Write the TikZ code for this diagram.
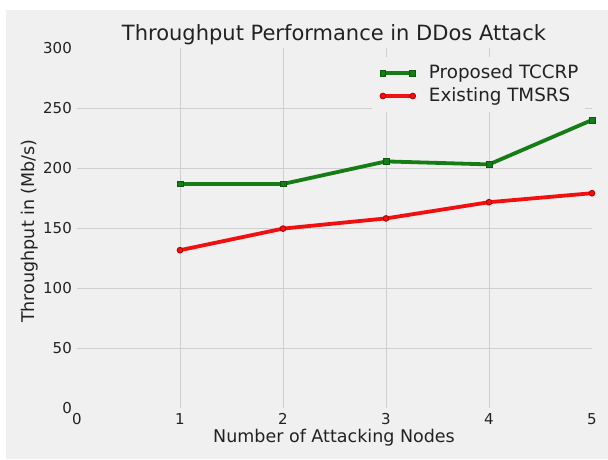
\documentclass[tikz,border=0pt]{standalone}
\usepackage{fontspec}
\setmainfont{DejaVu Sans}
\definecolor{panel}{HTML}{F0F0F0}
\definecolor{gridc}{HTML}{CFCFCF}
\definecolor{ink}{HTML}{222222}
\definecolor{tccrp}{HTML}{167D16}
\definecolor{tccrpedge}{HTML}{0B5A0B}
\definecolor{tmsrs}{HTML}{F01010}
\definecolor{tmsrsedge}{HTML}{B00000}
\tikzset{
  gridline/.style={draw=gridc, line width=0.9pt},
  tick/.style={text=ink, font=\fontsize{15}{16}\selectfont, inner sep=0pt},
  legtext/.style={anchor=west, text=ink, font=\fontsize{18.3}{19}\selectfont, inner sep=0pt},
  series/.style={line width=3.8pt, line join=round, line cap=round},
  sqmark/.style={fill=tccrp, draw=tccrpedge, line width=0.8pt, minimum size=5.8pt, inner sep=0pt, rectangle},
  ccmark/.style={fill=tmsrs, draw=tmsrsedge, line width=0.8pt, minimum size=5.8pt, inner sep=0pt, circle},
}
\begin{document}
\begin{tikzpicture}
\useasboundingbox (0pt,0pt) rectangle (608pt,-459pt);
\fill[white] (0pt,0pt) rectangle (608pt,-459pt);
\fill[panel] (6pt,-10pt) rectangle (608pt,-459pt);

% data frame: 103pt per node, 1.2pt per Mb/s, origin at (77,408)
\begin{scope}[x=103pt, y=1.2pt, shift={(77pt,-408pt)}]
  % grid
  \foreach \v in {50,100,...,250} \draw[gridline] (0,\v) -- (5,\v);
  \foreach \u in {1,...,4} \draw[gridline] (\u,0) -- (\u,300);

  % tick labels
  \foreach \v in {0,50,100,...,300}
    \node[tick, anchor=east] (yt\v) at ([xshift=-5pt]0,\v) {\v};
  \foreach \u in {0,...,5}
    \node[tick] (xt\u) at ([yshift=-11pt]\u,0) {\u};

  % legend panel
  \fill[panel] (2.86,246.5) rectangle (4.93,292.5);
  \coordinate (lg1a) at (2.97,279);
  \coordinate (lg1b) at (3.26,279);
  \coordinate (lg2a) at (2.97,260);
  \coordinate (lg2b) at (3.26,260);
  \draw[series, draw=tccrp] (lg1a) -- (lg1b);
  \node[sqmark] at (lg1a) {};
  \node[sqmark] at (lg1b) {};
  \draw[series, draw=tmsrs] (lg2a) -- (lg2b);
  \node[ccmark] at (lg2a) {};
  \node[ccmark] at (lg2b) {};
  \node[legtext] (lgt1) at ([xshift=16pt]lg1b) {Proposed TCCRP};
  \node[legtext] (lgt2) at ([xshift=16pt]lg2b) {Existing TMSRS};

  % Proposed TCCRP
  \coordinate (g1) at (1,186.7);
  \coordinate (g2) at (2,186.7);
  \coordinate (g3) at (3,205.5);
  \coordinate (g4) at (4,203);
  \coordinate (g5) at (5,240);
  \draw[series, draw=tccrp] (g1) -- (g2) -- (g3) -- (g4) -- (g5);
  \foreach \p in {g1,g2,g3,g4,g5} \node[sqmark] at (\p) {};

  % Existing TMSRS
  \coordinate (r1) at (1,131.5);
  \coordinate (r2) at (2,149.5);
  \coordinate (r3) at (3,158);
  \coordinate (r4) at (4,171.5);
  \coordinate (r5) at (5,179);
  \draw[series, draw=tmsrs] (r1) -- (r2) -- (r3) -- (r4) -- (r5);
  \foreach \p in {r1,r2,r3,r4,r5} \node[ccmark] at (\p) {};
\end{scope}

% titles
\node[text=ink, font=\fontsize{21}{23}\selectfont] (title) at (334pt,-35pt) {Throughput Performance in DDos Attack};
\node[text=ink, font=\fontsize{17.5}{19}\selectfont] (xlab) at (334pt,-438pt) {Number of Attacking Nodes};
\node[text=ink, font=\fontsize{17.5}{19}\selectfont, rotate=90] (ylab) at (30pt,-231pt) {Throughput in (Mb/s)};
\end{tikzpicture}
\end{document}
